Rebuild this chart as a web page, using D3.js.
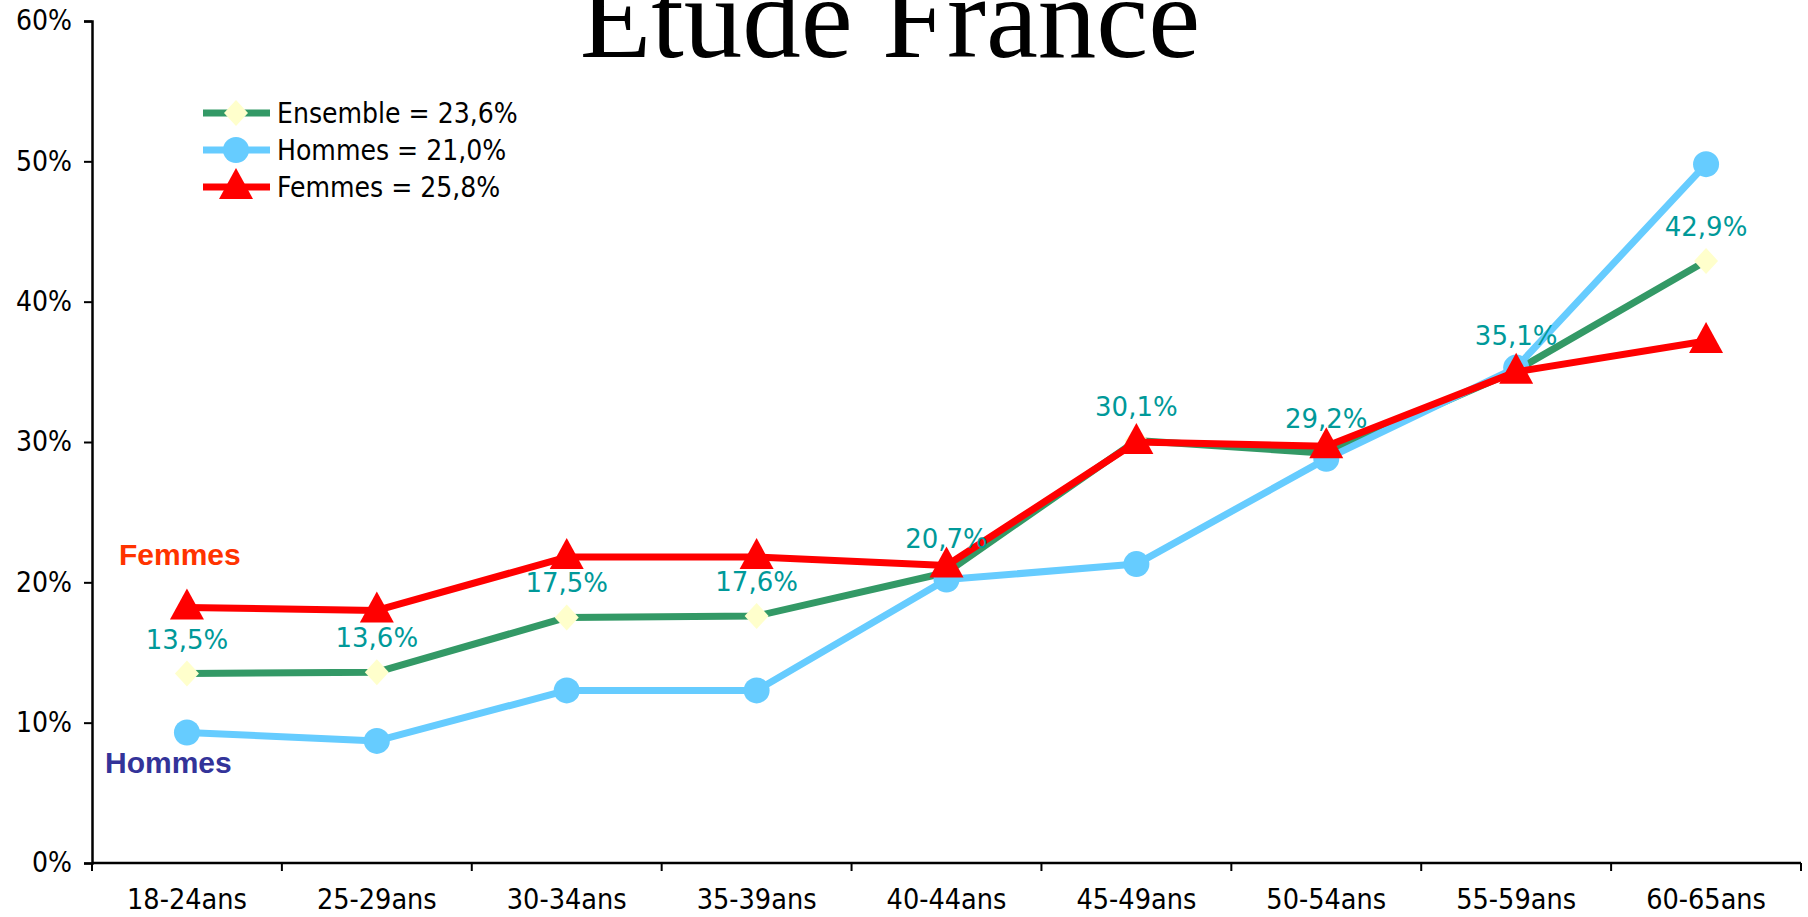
<!DOCTYPE html>
<html>
<head>
<meta charset="utf-8">
<script src="https://cdn.jsdelivr.net/npm/d3@7"></script>
<style>
  body { margin: 0; background: #fff; }
  text { font-family: "DejaVu Sans Condensed", "DejaVu Sans", sans-serif; font-stretch: condensed; }
</style>
</head>
<body>
<div id="chart"></div>
<script>
// age groups along the x axis
const categories = ["18-24ans", "25-29ans", "30-34ans", "35-39ans", "40-44ans", "45-49ans", "50-54ans", "55-59ans", "60-65ans"];
// values in %
const ensemble = [13.5, 13.6, 17.5, 17.6, 20.7, 30.1, 29.2, 35.1, 42.9];
const hommes = [9.3, 8.7, 12.3, 12.3, 20.2, 21.3, 28.8, 35.3, 49.8];
const femmes = [18.2, 18.0, 21.8, 21.8, 21.2, 30.0, 29.7, 35.0, 37.2];
const yTicks = [0, 10, 20, 30, 40, 50, 60];
const legendLabels = ["Ensemble = 23,6%", "Hommes = 21,0%", "Femmes = 25,8%"];

(function chart() {
    const width = 1808, height = 917,
        margin = ({ top: 21, right: 7, bottom: 54, left: 92 });

    const svg = d3.select("#chart")
        .append("svg")
        .attr("width", width)
        .attr("height", height)
        .attr("viewBox", [0, 0, width, height]);

    let x = d3.scaleBand()
        .domain(categories)
        .range([margin.left, width - margin.right]);

    let y = d3.scaleLinear()
        .domain([0, 60])
        .range([height - margin.bottom, margin.top]);

    const cx = d => x(d) + x.bandwidth() / 2;

    // title (cut at the top, as in the original)
    svg.append("text")
        .attr("x", 890)
        .attr("y", 57)
        .attr("text-anchor", "middle")
        .style("font-family", "'Liberation Serif', 'Times New Roman', serif")
        .style("font-stretch", "normal")
        .style("font-size", "117px")
        .text("Etude France");

    // x axis: ticks between categories
    const xAxis = svg.append("g")
        .attr("transform", `translate(0,${height - margin.bottom})`);
    xAxis.append("line")
        .attr("x1", margin.left).attr("x2", width - margin.right)
        .attr("stroke", "#000").attr("stroke-width", 2.5);
    xAxis.selectAll(".tk")
        .data(categories.concat(["end"]))
        .join("line")
        .attr("x1", (d, i) => i < categories.length ? x(d) : width - margin.right)
        .attr("x2", (d, i) => i < categories.length ? x(d) : width - margin.right)
        .attr("y1", 0).attr("y2", 8)
        .attr("stroke", "#000").attr("stroke-width", 2);
    xAxis.selectAll(".lbl")
        .data(categories)
        .join("text")
        .attr("x", d => cx(d))
        .attr("y", 46)
        .attr("text-anchor", "middle")
        .style("font-size", "28.5px")
        .text(d => d);

    // y axis
    svg.append("g")
        .attr("transform", `translate(${margin.left},0)`)
        .call(d3.axisLeft(y).tickValues(yTicks).tickFormat(d => d + "%").tickSize(8).tickPadding(12))
        .call(g => g.select(".domain").attr("stroke-width", 2.5))
        .call(g => g.selectAll(".tick line").attr("stroke-width", 2))
        .call(g => g.selectAll(".tick text").style("font-size", "28px").attr("fill", "#000"));

    let line = d3.line()
        .x((d, i) => cx(categories[i]))
        .y(d => y(d));

    const series = [
        { name: "ensemble", values: ensemble, color: "#339966", marker: "diamond" },
        { name: "hommes", values: hommes, color: "#66CCFF", marker: "circle" },
        { name: "femmes", values: femmes, color: "#FF0000", marker: "triangle" }
    ];

    function drawMarker(g, type, color) {
        if (type === "diamond") {
            g.append("path").attr("d", "M0,-13L12,0L0,13L-12,0Z").attr("fill", "#FFFFCC");
        } else if (type === "circle") {
            g.append("circle").attr("r", 13).attr("fill", color);
        } else {
            g.append("path").attr("d", "M0,-19L17,12L-17,12Z").attr("fill", color);
        }
    }

    series.forEach(s => {
        svg.append("path")
            .datum(s.values)
            .attr("d", line)
            .attr("fill", "none")
            .attr("stroke", s.color)
            .attr("stroke-width", 7)
            .attr("stroke-linejoin", "round");
        s.values.forEach((v, i) => {
            const g = svg.append("g").attr("transform", `translate(${cx(categories[i])},${y(v)})`);
            drawMarker(g, s.marker, s.color);
        });
    });

    // data labels for Ensemble
    svg.append("g")
        .selectAll("text")
        .data(ensemble)
        .join("text")
        .attr("x", (d, i) => cx(categories[i]))
        .attr("y", d => y(d) - 25)
        .attr("text-anchor", "middle")
        .attr("fill", "#009999")
        .style("font-family", "'DejaVu Sans', sans-serif")
        .style("font-stretch", "normal")
        .style("font-size", "26px")
        .text(d => d.toFixed(1).replace(".", ",") + "%");

    // legend
    const legend = svg.append("g").attr("transform", "translate(203,113)");
    series.forEach((s, i) => {
        const g = legend.append("g").attr("transform", `translate(0,${i * 37})`);
        g.append("line").attr("x1", 0).attr("x2", 67).attr("stroke", s.color).attr("stroke-width", 7);
        const m = g.append("g").attr("transform", "translate(33,0)");
        drawMarker(m, s.marker, s.color);
        g.append("text")
            .attr("x", 74)
            .attr("y", 10)
            .style("font-size", "28px")
            .text(legendLabels[i]);
    });

    // annotations
    svg.append("text")
        .attr("x", 119).attr("y", 565)
        .attr("fill", "#FF3300")
        .style("font-family", "'Liberation Sans', Arial, sans-serif")
        .style("font-stretch", "normal")
        .style("font-weight", "bold")
        .style("font-size", "30px")
        .text("Femmes");
    svg.append("text")
        .attr("x", 105).attr("y", 773)
        .attr("fill", "#333399")
        .style("font-family", "'Liberation Sans', Arial, sans-serif")
        .style("font-stretch", "normal")
        .style("font-weight", "bold")
        .style("font-size", "30px")
        .text("Hommes");
})();
</script>
</body>
</html>
